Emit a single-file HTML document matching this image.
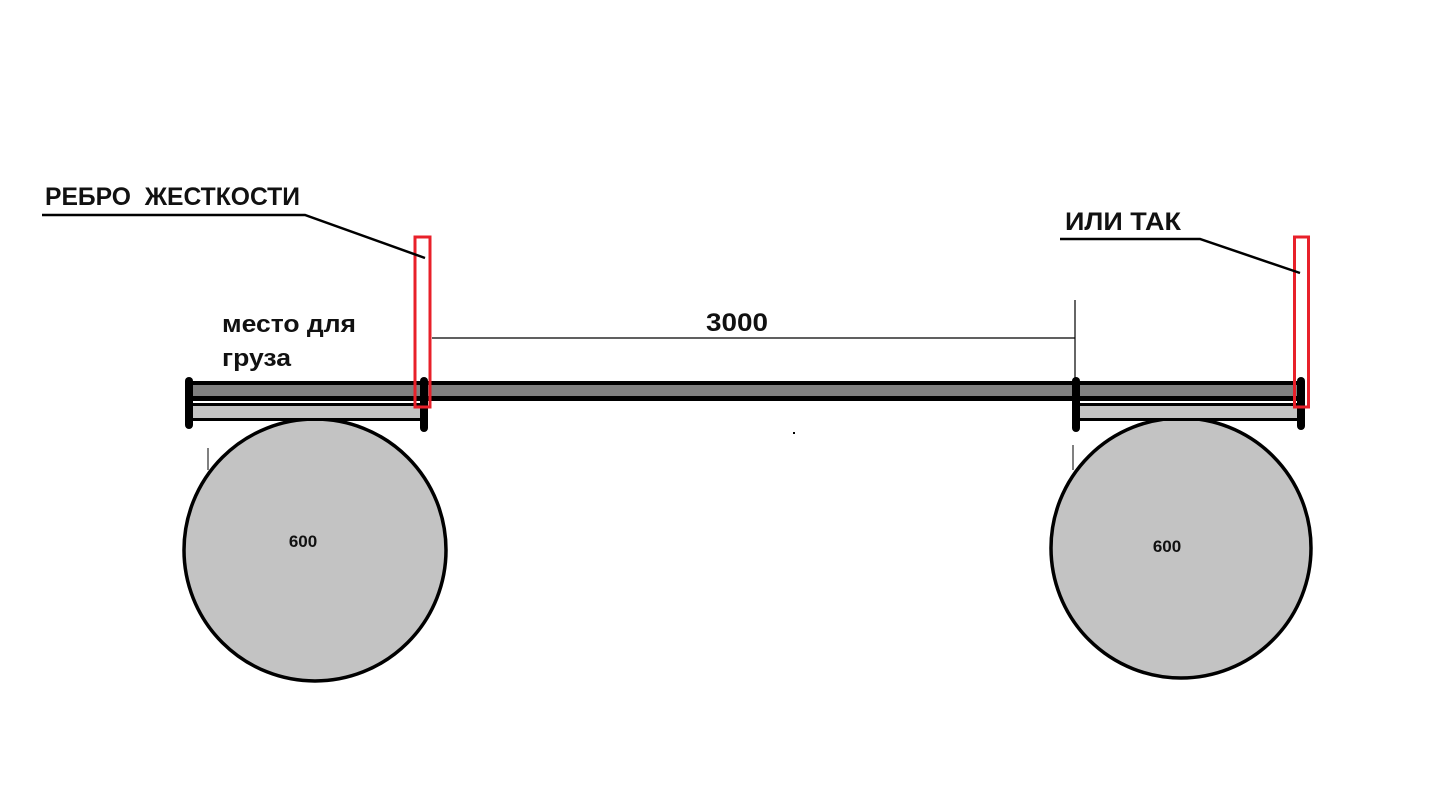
<!DOCTYPE html>
<html><head><meta charset="utf-8"><style>
html,body{margin:0;padding:0;background:#fff;}
svg{display:block}
text{font-family:"Liberation Sans","Noto Sans CJK SC",sans-serif;font-weight:bold;fill:#111;white-space:pre}
</style></head><body>
<svg width="1437" height="803" viewBox="0 0 1437 803" xmlns="http://www.w3.org/2000/svg">
<circle cx="315" cy="550" r="131" fill="#c3c3c3" stroke="#000" stroke-width="3.5"/>
<circle cx="1181" cy="548" r="130" fill="#c3c3c3" stroke="#000" stroke-width="3.5"/>
<rect x="190" y="403" width="235" height="18" fill="#000"/>
<rect x="190" y="406" width="235" height="12" fill="#c3c3c3"/>
<rect x="1077" y="403" width="224" height="18" fill="#000"/>
<rect x="1077" y="406" width="224" height="12" fill="#c3c3c3"/>
<rect x="188" y="381" width="1113" height="20" fill="#000"/>
<rect x="188" y="385" width="1113" height="11" fill="#808080"/>
<rect x="185" y="377" width="8" height="52" rx="4" fill="#000"/>
<rect x="420" y="377" width="8" height="55" rx="4" fill="#000"/>
<rect x="1072" y="377" width="8" height="55" rx="4" fill="#000"/>
<rect x="1297" y="377" width="8" height="53" rx="4" fill="#000"/>
<line x1="208" y1="448" x2="208" y2="470" stroke="#000" stroke-width="1"/>
<line x1="1073" y1="445" x2="1073" y2="470" stroke="#000" stroke-width="1"/>
<rect x="793" y="432" width="2" height="2" fill="#000"/>
<line x1="432" y1="338" x2="1075" y2="338" stroke="#000" stroke-width="1.2"/>
<line x1="1075" y1="300" x2="1075" y2="382" stroke="#000" stroke-width="1.2"/>
<text x="706" y="331" font-size="25" textLength="62" lengthAdjust="spacingAndGlyphs">3000</text>
<rect x="415" y="237" width="15" height="170" fill="none" stroke="#e8202a" stroke-width="3"/>
<rect x="1294.5" y="237" width="14" height="170" fill="none" stroke="#e8202a" stroke-width="3"/>
<polyline points="42,215 305,215 425,258" fill="none" stroke="#000" stroke-width="2.5"/>
<polyline points="1060,239 1200,239 1300,273" fill="none" stroke="#000" stroke-width="2.5"/>
<text x="45" y="205" font-size="25" textLength="255" lengthAdjust="spacingAndGlyphs">РЕБРО  ЖЕСТКОСТИ</text>
<text x="1065" y="230" font-size="25" textLength="116" lengthAdjust="spacingAndGlyphs">ИЛИ ТАК</text>
<text x="222" y="332" font-size="24" textLength="134" lengthAdjust="spacingAndGlyphs">место для</text>
<text x="222" y="366" font-size="24" textLength="69" lengthAdjust="spacingAndGlyphs">груза</text>
<text x="303" y="547" font-size="17" text-anchor="middle">600</text>
<text x="1167" y="552" font-size="17" text-anchor="middle">600</text>
</svg>
</body></html>
